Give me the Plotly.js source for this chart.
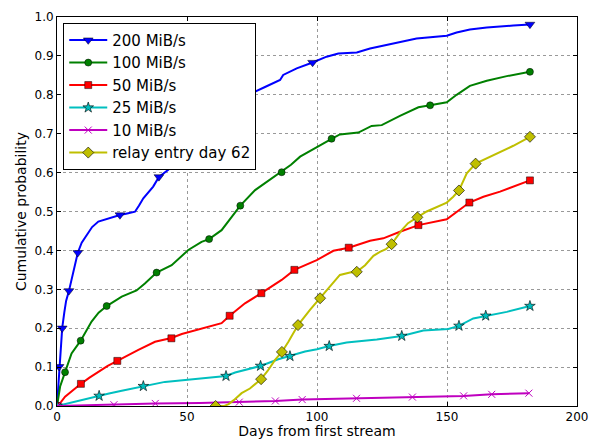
<!DOCTYPE html>
<html>
<head>
<meta charset="utf-8">
<script src="https://cdn.plot.ly/plotly-3.0.1.min.js"></script>
<style>html,body{margin:0;padding:0;background:#fff;}#chart{width:602px;height:439px;}</style>
</head>
<body>
<div id="chart"></div>
<script>
// ---- data (days from first stream, cumulative probability) ----
const seriesNames = ["200 MiB/s", "100 MiB/s", "50 MiB/s", "25 MiB/s", "10 MiB/s", "relay entry day 62"];

const blueDays = [0,0.3,0.6,0.8,1.4,2.0,2.8,3.5,4.6,6,8.0,9.5,11.4,13.5,15.9,19.7,24.2,27,30,31.5,33.2,37,39.2,42.8,44.7,47.3,51,55,60,65,72,76.2,80,85.8,87,92.2,98.3,103.7,108.2,115.3,120.4,126.8,131.9,138.3,149.9,153.7,158.8,165.3,175.5,181.9];
const blueProb = [0,0.03,0.07,0.101,0.15,0.20,0.24,0.27,0.296,0.34,0.394,0.42,0.44,0.46,0.474,0.482,0.491,0.495,0.4995,0.515,0.534,0.564,0.589,0.607,0.624,0.641,0.665,0.687,0.716,0.745,0.785,0.808,0.82,0.838,0.851,0.868,0.883,0.898,0.906,0.909,0.919,0.928,0.937,0.945,0.952,0.960,0.968,0.973,0.978,0.981];
const blueMarkDays = [0,0.8,2.0,4.6,8.0,24.2,39.2,55,72,98.3,181.9];
const blueMarkProb = [0,0.101,0.20,0.296,0.394,0.491,0.589,0.687,0.785,0.883,0.981];

const greenDays = [0,0.5,1.2,3.1,5.6,9.1,13.3,16,19.1,24.9,30.6,33.8,38.3,44.1,47,50.5,55.6,58.5,63.3,67.2,70.5,76.2,82.6,86.4,90,93.5,101.2,105.6,108.8,115.9,121,124.9,131.9,139,143.5,149.9,153.7,158.8,165.3,173,181.9];
const greenProb = [0,0.02,0.05,0.087,0.135,0.168,0.217,0.24,0.257,0.281,0.297,0.315,0.343,0.362,0.38,0.401,0.422,0.429,0.452,0.487,0.515,0.555,0.585,0.601,0.62,0.641,0.671,0.687,0.698,0.703,0.72,0.722,0.746,0.768,0.773,0.781,0.80,0.823,0.836,0.848,0.859];
const greenMarkDays = [0,3.1,9.1,19.1,38.3,58.5,70.5,86.4,105.6,143.5,181.9];
const greenMarkProb = [0,0.087,0.168,0.257,0.343,0.429,0.515,0.601,0.687,0.773,0.859];

const redDays = [0,1.5,3.1,6,9.2,12.5,15.9,19.5,23.2,27,31.3,37.7,44,48,53.1,58.2,63.3,66.4,72.3,78.6,82,86.4,91.3,95.4,99.9,106.3,112.2,120.4,125.5,131.9,139,149.9,155,158.6,164,170.4,181.9];
const redProb = [0,0.01,0.024,0.04,0.057,0.073,0.088,0.103,0.116,0.13,0.144,0.165,0.175,0.185,0.195,0.204,0.213,0.232,0.264,0.29,0.305,0.324,0.35,0.362,0.375,0.399,0.407,0.425,0.431,0.448,0.465,0.48,0.504,0.523,0.538,0.551,0.58];
const redMarkDays = [0,9.2,23.2,44,66.4,78.6,91.3,112.2,139,158.6,181.9];
const redMarkProb = [0,0.057,0.116,0.174,0.232,0.29,0.35,0.407,0.465,0.523,0.58];

const cyanDays = [0,3,6.9,11,16.2,20,24.9,29,33.2,37,41.5,45.4,50.5,58,65,68.5,73,78.3,85.1,89.6,95.4,100,104.7,111.4,123,132.6,140.9,150.5,154.6,160.1,164.9,173,181.9];
const cyanProb = [0,0.005,0.011,0.018,0.026,0.032,0.039,0.045,0.051,0.056,0.062,0.064,0.067,0.071,0.077,0.086,0.093,0.103,0.12,0.128,0.14,0.146,0.154,0.163,0.171,0.18,0.194,0.198,0.206,0.225,0.232,0.242,0.257];
const cyanMarkDays = [0,16.2,33.2,65,78.3,89.6,104.7,132.6,154.6,164.9,181.9];
const cyanMarkProb = [0,0.026,0.051,0.077,0.103,0.128,0.154,0.18,0.206,0.232,0.257];

const magentaDays = [0,5,10,21.9,37.8,55,70.1,84,94.3,115.2,136.7,156.4,167.2,181.5];
const magentaProb = [0,0.001,0.002,0.0033,0.0066,0.008,0.0099,0.013,0.0165,0.0198,0.023,0.026,0.030,0.033];
const magentaMarkDays = [0,21.9,37.8,70.1,84,94.3,115.2,136.7,156.4,167.2,181.5];
const magentaMarkProb = [0,0.0033,0.0066,0.0099,0.013,0.0165,0.0198,0.023,0.026,0.030,0.033];

const yellowDays = [61,64.4,66,68,71,74.2,78.5,81,83.8,86.5,89,91.5,92.7,97.3,101.2,105,108.8,112.7,115.3,118.5,121.7,124.2,126.5,128.7,132.6,135,138.6,142.2,149.9,152.4,154.6,157.6,161,165.3,170.4,175.5,181.9];
const yellowProb = [0,0,0.005,0.015,0.033,0.045,0.069,0.09,0.118,0.139,0.165,0.195,0.208,0.247,0.277,0.307,0.337,0.343,0.345,0.362,0.386,0.396,0.403,0.416,0.452,0.47,0.485,0.50,0.523,0.538,0.554,0.598,0.623,0.637,0.654,0.669,0.692];
const yellowMarkDays = [61,78.5,86.5,92.7,101.2,115.3,128.7,138.6,154.6,161,181.9];
const yellowMarkProb = [0,0.069,0.139,0.208,0.277,0.345,0.416,0.485,0.554,0.623,0.692];

const xTicks = [0, 50, 100, 150, 200];
const yTicks = [0, 0.1, 0.2, 0.3, 0.4, 0.5, 0.6, 0.7, 0.8, 0.9, 1.0];

// ---- styles ----
const styles = [
  {color: "#0000ff", symbol: "triangle-down", size: 8.5, lw: 0.5, lc: "#000"},
  {color: "#008000", symbol: "circle", size: 7, lw: 0.5, lc: "#000"},
  {color: "#ff0000", symbol: "square", size: 7, lw: 0.5, lc: "#000"},
  {color: "#00bfbf", symbol: "star", size: 8, lw: 0.6, lc: "#000"},
  {color: "#bf00bf", symbol: "x-thin", size: 7, lw: 1, lc: "#bf00bf"},
  {color: "#bfbf00", symbol: "diamond", size: 8.5, lw: 0.6, lc: "#000"}
];
const lineData = [[blueDays, blueProb],[greenDays, greenProb],[redDays, redProb],[cyanDays, cyanProb],[magentaDays, magentaProb],[yellowDays, yellowProb]];
const markData = [[blueMarkDays, blueMarkProb],[greenMarkDays, greenMarkProb],[redMarkDays, redMarkProb],[cyanMarkDays, cyanMarkProb],[magentaMarkDays, magentaMarkProb],[yellowMarkDays, yellowMarkProb]];

const traces = [];
seriesNames.forEach((name, i) => {
  const s = styles[i];
  traces.push({x: lineData[i][0], y: lineData[i][1], mode: "lines", line: {color: s.color, width: 2}, showlegend: false, hoverinfo: "skip"});
  traces.push({x: markData[i][0], y: markData[i][1], mode: "markers", showlegend: false,
    marker: {symbol: s.symbol, size: s.size, color: s.color, line: {color: s.lc, width: s.lw}}});
});
seriesNames.forEach((name, i) => {
  const s = styles[i];
  traces.push({x: [null], y: [null], mode: "lines+markers", name: name,
    line: {color: s.color, width: 2},
    marker: {symbol: s.symbol, size: s.size, color: s.color, line: {color: s.lc, width: s.lw}}});
});

const axisCommon = {
  showline: true, linecolor: "#000", linewidth: 1, mirror: "ticks",
  ticks: "inside", ticklen: 4, tickcolor: "#000",
  showgrid: true, gridcolor: "#7f7f7f", gridwidth: 0.8, griddash: "dot",
  zeroline: false, tickfont: {family: "DejaVu Sans", size: 12, color: "#000"}
};

const layout = {
  width: 602, height: 439,
  margin: {l: 57, r: 25, t: 17, b: 33},
  paper_bgcolor: "#fff", plot_bgcolor: "#fff",
  font: {family: "DejaVu Sans", color: "#000"},
  xaxis: Object.assign({}, axisCommon, {
    range: [0, 200], tickvals: xTicks, ticktext: xTicks.map(String),
    title: {text: "Days from first stream", font: {family: "DejaVu Sans", size: 14, color: "#000"}, standoff: 2},
    automargin: false
  }),
  yaxis: Object.assign({}, axisCommon, {
    range: [0, 1], tickvals: yTicks, ticktext: yTicks.map(v => v.toFixed(1)),
    title: {text: "Cumulative probability", font: {family: "DejaVu Sans", size: 14, color: "#000"}, standoff: 4},
    automargin: false
  }),
  legend: {
    x: 0.012, y: 0.985, xanchor: "left", yanchor: "top",
    bgcolor: "#fff", bordercolor: "#000", borderwidth: 1,
    font: {family: "DejaVu Sans", size: 15, color: "#000"},
    itemwidth: 38
  },
  showlegend: true
};

Plotly.newPlot("chart", traces, layout, {displayModeBar: false, staticPlot: true});
</script>
</body>
</html>
